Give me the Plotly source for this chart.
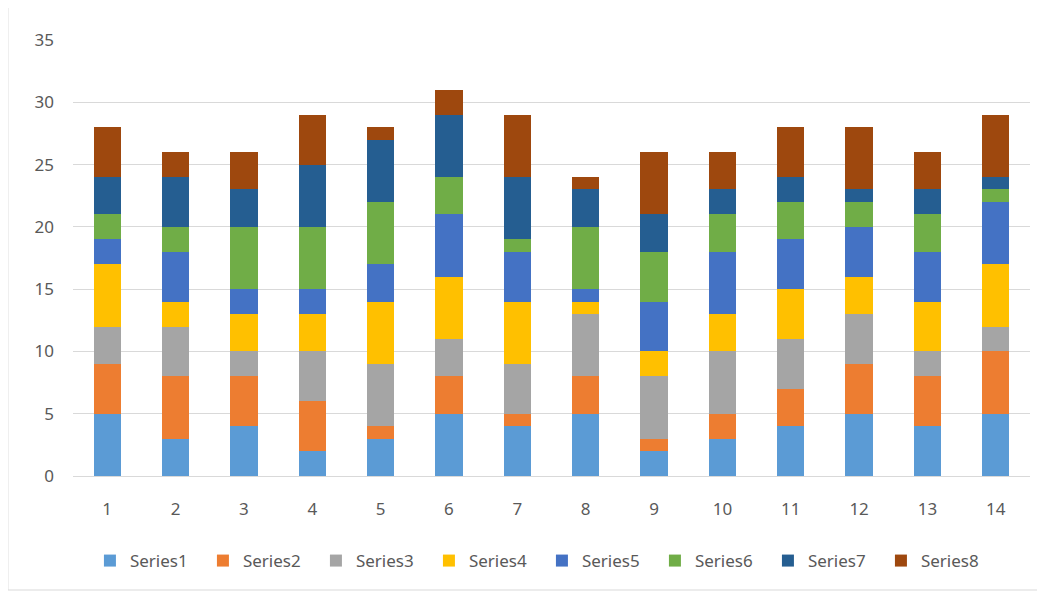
import plotly.graph_objects as go

categories = [str(i) for i in range(1, 15)]
series_names = ["Series1", "Series2", "Series3", "Series4",
                "Series5", "Series6", "Series7", "Series8"]

s1 = [5, 3, 4, 2, 3, 5, 4, 5, 2, 3, 4, 5, 4, 5]
s2 = [4, 5, 4, 4, 1, 3, 1, 3, 1, 2, 3, 4, 4, 5]
s3 = [3, 4, 2, 4, 5, 3, 4, 5, 5, 5, 4, 4, 2, 2]
s4 = [5, 2, 3, 3, 5, 5, 5, 1, 2, 3, 4, 3, 4, 5]
s5 = [2, 4, 2, 2, 3, 5, 4, 1, 4, 5, 4, 4, 4, 5]
s6 = [2, 2, 5, 5, 5, 3, 1, 5, 4, 3, 3, 2, 3, 1]
s7 = [3, 4, 3, 5, 5, 5, 5, 3, 3, 2, 2, 1, 2, 1]
s8 = [4, 2, 3, 4, 1, 2, 5, 1, 5, 3, 4, 5, 3, 5]

series_values = [s1, s2, s3, s4, s5, s6, s7, s8]
colors = ["#5B9BD5", "#ED7D31", "#A5A5A5", "#FFC000",
          "#4472C4", "#70AD47", "#255E91", "#9E480E"]

font_family = "Liberation Sans Narrow, Noto Sans, Arial"

fig = go.Figure()
for name, vals, col in zip(series_names, series_values, colors):
    fig.add_trace(go.Bar(x=categories, y=vals, name=name,
                         marker=dict(color=col, line=dict(width=0))))

fig.update_layout(
    barmode="stack",
    bargap=0.6,
    width=1045, height=593,
    plot_bgcolor="white", paper_bgcolor="white",
    margin=dict(l=65, r=23, t=32, b=125, autoexpand=False),
    font=dict(family=font_family, size=17, color="#595959"),
    legend=dict(orientation="h", x=0.49, xanchor="center", y=-0.195, yanchor="middle",
                entrywidth=68, entrywidthmode="pixels",
                font=dict(family=font_family, size=17, color="#595959"),
                itemsizing="constant", traceorder="normal"),
    xaxis=dict(showgrid=False, showline=True, linecolor="#D9D9D9", linewidth=1,
               ticks="", ticklabelstandoff=18,
               tickfont=dict(size=17, color="#595959")),
    yaxis=dict(range=[0, 35], dtick=5, showgrid=True, gridcolor="#D9D9D9",
               gridwidth=1, zeroline=False, showline=False, ticks="",
               ticklabelstandoff=18,
               tickfont=dict(size=17, color="#595959")),
    shapes=[dict(type="rect", xref="paper", yref="paper",
                 x0=-0.068, x1=1.0115, y0=-0.2615, y1=1.087,
                 line=dict(color="#D9D9D9", width=1))],
)

fig.write_html("out.html")
